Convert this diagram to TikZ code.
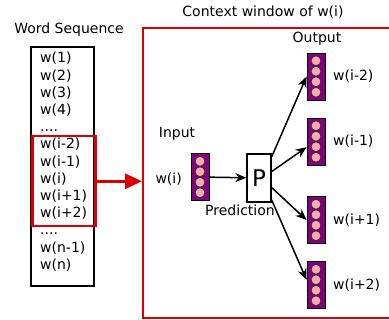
\documentclass[tikz,border=0pt]{standalone}
\usepackage{fontspec}
\setmainfont{DejaVu Sans}
\usepackage{tikz}
\usetikzlibrary{arrows.meta,calc}

\definecolor{winred}{RGB}{220,0,0}
\definecolor{vecpurple}{RGB}{128,0,128}
\definecolor{cellpink}{RGB}{250,170,170}

\newcommand{\wgap}{.\kern0pt.\kern0pt.\kern0pt.}

\tikzset{
  lbl/.style={font=\fontsize{14}{16}\selectfont, inner sep=0pt},
  wvec/.style={draw=black, line width=0.9pt, fill=vecpurple, minimum width=18pt,
    minimum height=47pt, inner sep=0pt,
    path picture={
      \foreach \k in {-1.5,-0.5,0.5,1.5} {
        \filldraw[fill=cellpink, draw=black!85, line width=0.6pt]
          ($(path picture bounding box.center)+(0pt,\k*10.5pt)$) circle [radius=4.9pt];
      }
    }},
  flow/.style={-{Stealth[length=11pt,width=9pt]}, line width=1.5pt},
}

\begin{document}
\begin{tikzpicture}[x=1pt,y=-1pt]
    \useasboundingbox (0,0) rectangle (389,320);

    % Word sequence column
    \node[lbl, anchor=base] (seqtitle) at (69,34) {Word Sequence};
    \node[draw, line width=2.2pt, minimum width=63pt, minimum height=239pt,
          inner sep=0pt, anchor=north west] (seq) at (30,46) {};
    \foreach \w [count=\k from 0] in {w(1),w(2),w(3),w(4),\wgap,w(i-2),w(i-1),w(i),w(i+1),w(i+2),\wgap,w(n-1),w(n)} {
        \node[lbl, anchor=base west] (word\k) at (40,63+\k*17.2) {\w};
    }

    % Window around w(i)
    \node[draw=winred, line width=2.5pt, minimum width=63pt, minimum height=90pt,
          inner sep=0pt, anchor=north west] (ctxwin) at (31,135) {};

    % Context window frame
    \node[lbl, anchor=base] (ctxtitle) at (263,17) {Context window of w(i)};
    \node[draw=winred, line width=2pt, minimum width=260pt, minimum height=290pt,
          inner sep=0pt, anchor=north west] (ctx) at (142,27) {};
    \draw[winred, line width=3pt, -{Triangle[length=17pt,width=15pt]}]
        (ctxwin.east) -- (ctxwin.east -| ctx.west);

    % Input
    \node[lbl, anchor=base] (intitle) at (177,138) {Input};
    \node[wvec] (invec) at (200,177) {};
    \node[lbl, anchor=east] (inword) at (182,179) {w(i)};

    % Prediction
    \node[draw, line width=1.3pt, fill=white, minimum width=24pt, minimum height=48pt,
          inner sep=0pt, font=\fontsize{23}{24}\selectfont] (pred) at (259,178) {P};
    \node[lbl, anchor=base] (predlbl) at (240,216) {Prediction};
    \draw[flow] (invec) -- (pred);

    % Outputs
    \node[lbl, anchor=base] (outtitle) at (317,43) {Output};
    \foreach \n/\y/\t in {1/76.5/w(i-2), 2/141.5/w(i-1), 3/220/w(i+1), 4/285/w(i+2)} {
        \node[wvec] (out\n) at (316,\y) {};
        \node[lbl, anchor=west] (outlbl\n) at (333,\y) {\t};
    }
    \draw[flow] (pred.59) -- (out1.west);
    \draw[flow] (pred.27) -- (out2.211);
    \draw[flow] (pred.-37) -- (out3.west);
    \draw[flow] (pred.-60) -- (out4.151);
\end{tikzpicture}
\end{document}
